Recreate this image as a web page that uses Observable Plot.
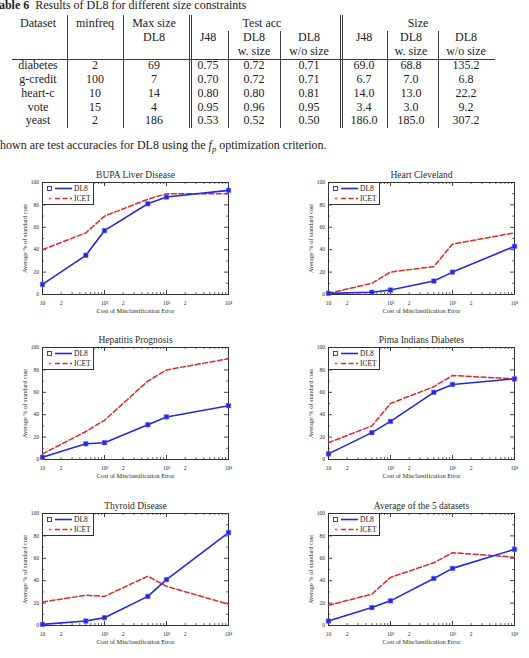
<!DOCTYPE html>
<html>
<head>
<meta charset="utf-8">
<script src="https://cdn.jsdelivr.net/npm/d3@7"></script>
<script src="https://cdn.jsdelivr.net/npm/@observablehq/plot@0.6"></script>
<style>
  body { margin: 0; background: #fff; }
  #page { position: relative; width: 529px; height: 658px; overflow: hidden;
          font-family: "Liberation Serif", "DejaVu Serif", "Times New Roman", serif; color: #222; }
  .c { position: absolute; white-space: nowrap; font-size: 12px; line-height: 1;
       transform: translate(-50%, -50%); }
  .l { position: absolute; white-space: nowrap; font-size: 12px; line-height: 1;
       transform: translateY(-50%); }
  .rule { position: absolute; background: #3a3a3a; }
  .chart { position: absolute; }
  .chart svg { display: block; }
  .legend { position: absolute; box-sizing: border-box; border: 1px solid #333; background: #fff; }
  .legend svg { position: absolute; left: 0; top: 0; }
</style>
</head>
<body>
<div id="page"></div>
<script>
// ---- Table 6 data ----
const datasets      = ["diabetes", "g-credit", "heart-c", "vote", "yeast"];
const minfreq       = [2, 100, 10, 15, 2];
const maxSizeDL8    = [69, 7, 14, 4, 186];
const accJ48        = [0.75, 0.70, 0.80, 0.95, 0.53];
const accDL8Size    = [0.72, 0.72, 0.80, 0.96, 0.52];
const accDL8NoSize  = [0.71, 0.71, 0.81, 0.95, 0.50];
const sizeJ48       = [69.0, 6.7, 14.0, 3.4, 186.0];
const sizeDL8Size   = [68.8, 7.0, 13.0, 3.0, 185.0];
const sizeDL8NoSize = [135.2, 6.8, 22.2, 9.2, 307.2];

// ---- cost-sensitive comparison data (average % of standard cost) ----
const costs = [10, 50, 100, 500, 1000, 10000];
const bupaDL8       = [9, 35, 57, 81, 87, 93];
const bupaICET      = [40, 55, 70, 85, 90, 90];
const heartDL8      = [1, 2, 4, 12, 20, 43];
const heartICET     = [1, 10, 20, 25, 45, 55];
const hepatitisDL8  = [2, 14, 15, 31, 38, 48];
const hepatitisICET = [5, 25, 35, 70, 80, 90];
const pimaDL8       = [5, 24, 34, 60, 67, 72];
const pimaICET      = [15, 30, 50, 65, 75, 72];
const thyroidDL8    = [1, 4, 7, 26, 41, 83];
const thyroidICET   = [21, 27, 26, 44, 35, 19];
const averageDL8    = [4, 16, 22, 42, 51, 68];
const averageICET   = [18, 28, 43, 56, 65, 61];

// axis tick values
const decadeTicks = [10, 100, 1000, 10000];
const minorTicks  = [20, 30, 40, 50, 60, 70, 80, 90, 200, 300, 400, 500, 600, 700, 800, 900,
                     2000, 3000, 4000, 5000, 6000, 7000, 8000, 9000];
const labelTicks  = [10, 20, 50, 100, 200, 500, 1000, 2000, 5000, 10000];
const yMajor = [0, 20, 40, 60, 80, 100];
const yMinor = [10, 30, 50, 70, 90];

const page = document.getElementById("page");

// ---- table ----
function put(cls, text, x, y, html) {
  const s = document.createElement("span");
  s.className = cls;
  if (html) s.innerHTML = text; else s.textContent = text;
  s.style.left = x + "px";
  s.style.top = y + "px";
  page.appendChild(s);
  return s;
}
function vline(x, y1, y2) {
  const d = document.createElement("div");
  d.className = "rule";
  Object.assign(d.style, {left: x + "px", top: y1 + "px", width: "1px", height: (y2 - y1) + "px"});
  page.appendChild(d);
}
function hline(x1, x2, y) {
  const d = document.createElement("div");
  d.className = "rule";
  Object.assign(d.style, {left: x1 + "px", top: y + "px", width: (x2 - x1) + "px", height: "1px"});
  page.appendChild(d);
}

put("l", "<b>Table 6</b>&nbsp; Results of DL8 for different size constraints", -8, 5, true);

const colX = [38, 95, 154, 208, 254, 309, 364, 411, 466];
const head1 = 23.3, head2 = 36.7, head3 = 50.7;
put("c", "Dataset", colX[0], head1);
put("c", "minfreq", colX[1], head1);
put("c", "Max size", colX[2], head1);
put("c", "DL8", colX[2], head2);
put("c", "Test acc", 262, head1);
put("c", "Size", 418, head1);
put("c", "J48", colX[3], head2);
put("c", "DL8", colX[4], head2);
put("c", "w. size", colX[4], head3);
put("c", "DL8", colX[5], head2);
put("c", "w/o size", colX[5], head3);
put("c", "J48", colX[6], head2);
put("c", "DL8", colX[7], head2);
put("c", "w. size", colX[7], head3);
put("c", "DL8", colX[8], head2);
put("c", "w/o size", colX[8], head3);

const rowY = [65, 79, 92.5, 106.5, 120];
datasets.forEach((name, i) => {
  const cells = [name, String(minfreq[i]), String(maxSizeDL8[i]),
    accJ48[i].toFixed(2), accDL8Size[i].toFixed(2), accDL8NoSize[i].toFixed(2),
    sizeJ48[i].toFixed(1), sizeDL8Size[i].toFixed(1), sizeDL8NoSize[i].toFixed(1)];
  cells.forEach((t, j) => put("c", t, colX[j], rowY[i]));
});

hline(12, 495, 58.5);
vline(66.5, 15, 128);
vline(122.5, 15, 128);
vline(188.5, 15, 128); vline(190.7, 15, 128);
vline(228, 31, 128);
vline(280, 31, 128);
vline(339.5, 15, 128); vline(341.7, 15, 128);
vline(386.5, 31, 128);
vline(437.5, 31, 128);

put("l", "Shown are test accuracies for DL8 using the <i>f<sub style=\"font-size:8.5px\">p</sub></i> optimization criterion.", -6.7, 146, true);

// ---- charts ----
const DL8_BLUE = "#2727df";
const ICET_RED = "#df2a2a";
const FW = 186, FH = 112;

function costLabel(d) {
  if (d === 10) return "10";
  if (d === 100) return "10²";
  if (d === 1000) return "10³";
  if (d === 10000) return "10⁴";
  return String(Math.round(d / 10 ** Math.floor(Math.log10(d))));
}

function costChart(title, dl8, icet) {
  const dl8Rows = costs.map((c, i) => ({cost: c, value: dl8[i]}));
  const icetRows = costs.map((c, i) => ({cost: c, value: icet[i]}));
  return Plot.plot({
    width: 243, height: 165,
    marginLeft: 42, marginRight: 15, marginTop: 22, marginBottom: 31,
    style: {fontFamily: "Liberation Serif, DejaVu Serif, serif", fontSize: "5.5px",
            background: "transparent", overflow: "visible", color: "#2a2a2a"},
    x: {type: "log", domain: [10, 10000]},
    y: {domain: [0, 100]},
    marks: [
      // inward ticks on all four sides
      Plot.tickX(minorTicks, {x: d => d, insetTop: FH - 2, stroke: "#444", strokeWidth: 0.8}),
      Plot.tickX(minorTicks, {x: d => d, insetBottom: FH - 2, stroke: "#444", strokeWidth: 0.8}),
      Plot.tickX(decadeTicks, {x: d => d, insetTop: FH - 4, stroke: "#444"}),
      Plot.tickX(decadeTicks, {x: d => d, insetBottom: FH - 4, stroke: "#444"}),
      Plot.tickY(yMajor, {y: d => d, insetRight: FW - 4, stroke: "#444"}),
      Plot.tickY(yMajor, {y: d => d, insetLeft: FW - 4, stroke: "#444"}),
      Plot.tickY(yMinor, {y: d => d, insetRight: FW - 2, stroke: "#444", strokeWidth: 0.8}),
      Plot.tickY(yMinor, {y: d => d, insetLeft: FW - 2, stroke: "#444", strokeWidth: 0.8}),
      Plot.frame({stroke: "#333", strokeWidth: 1}),
      Plot.axisX({ticks: labelTicks, anchor: "bottom", tickSize: 0, tickPadding: 6.5,
                  tickFormat: costLabel, label: null, fontSize: 5.5}),
      Plot.axisY({ticks: yMajor, anchor: "left", tickSize: 0, tickPadding: 3.5,
                  label: null, fontSize: 5.5}),
      Plot.line(icetRows, {x: "cost", y: "value", stroke: ICET_RED, strokeWidth: 1.5,
                           strokeDasharray: "5,2.5"}),
      Plot.line(dl8Rows, {x: "cost", y: "value", stroke: DL8_BLUE, strokeWidth: 1.6}),
      Plot.dot(dl8Rows, {x: "cost", y: "value", symbol: "square", r: 2.5,
                         fill: DL8_BLUE, stroke: "#5d5dff", strokeWidth: 0.6}),
      Plot.text([title], {text: d => d, frameAnchor: "top", lineAnchor: "middle",
                 dy: -8, fontSize: 9.5}),
      Plot.text(["Cost of Misclassification Error"], {text: d => d, frameAnchor: "bottom",
                 lineAnchor: "middle", dy: 16, fontSize: 6.3}),
      Plot.text(["Average % of standard cost"], {text: d => d, frameAnchor: "left",
                 textAnchor: "middle", lineAnchor: "middle", dx: -18, rotate: -90, fontSize: 6.3})
    ]
  });
}

function legend() {
  const box = document.createElement("div");
  box.className = "legend";
  Object.assign(box.style, {left: "42px", top: "22px", width: "52px", height: "23px"});
  box.innerHTML = `<svg width="52" height="23" font-family="Liberation Serif, DejaVu Serif, serif" font-size="7.5" fill="#222">
    <rect x="4.5" y="3.5" width="4" height="4" fill="none" stroke="${DL8_BLUE}" stroke-width="0.9"/>
    <line x1="12" x2="29" y1="5.5" y2="5.5" stroke="${DL8_BLUE}" stroke-width="1.6"/>
    <text x="31" y="5.5" dy="0.33em">DL8</text>
    <path d="M5.5,15.5h3M7,14v3" stroke="${ICET_RED}" stroke-width="0.6"/>
    <line x1="12" x2="29" y1="15.5" y2="15.5" stroke="${ICET_RED}" stroke-width="1.5" stroke-dasharray="5,2.5"/>
    <text x="31" y="15.5" dy="0.33em">ICET</text>
  </svg>`;
  return box;
}

const charts = [
  {title: "BUPA Liver Disease",        dl8: bupaDL8,      icet: bupaICET,      left: 0,   top: 160},
  {title: "Heart Cleveland",           dl8: heartDL8,     icet: heartICET,     left: 286, top: 160},
  {title: "Hepatitis Prognosis",       dl8: hepatitisDL8, icet: hepatitisICET, left: 0,   top: 325.3},
  {title: "Pima Indians Diabetes",     dl8: pimaDL8,      icet: pimaICET,      left: 286, top: 325.3},
  {title: "Thyroid Disease",           dl8: thyroidDL8,   icet: thyroidICET,   left: 0,   top: 491},
  {title: "Average of the 5 datasets", dl8: averageDL8,   icet: averageICET,   left: 286, top: 491}
];

for (const c of charts) {
  const holder = document.createElement("div");
  holder.className = "chart";
  holder.style.left = c.left + "px";
  holder.style.top = c.top + "px";
  holder.appendChild(costChart(c.title, c.dl8, c.icet));
  holder.appendChild(legend());
  page.appendChild(holder);
}
</script>
</body>
</html>
